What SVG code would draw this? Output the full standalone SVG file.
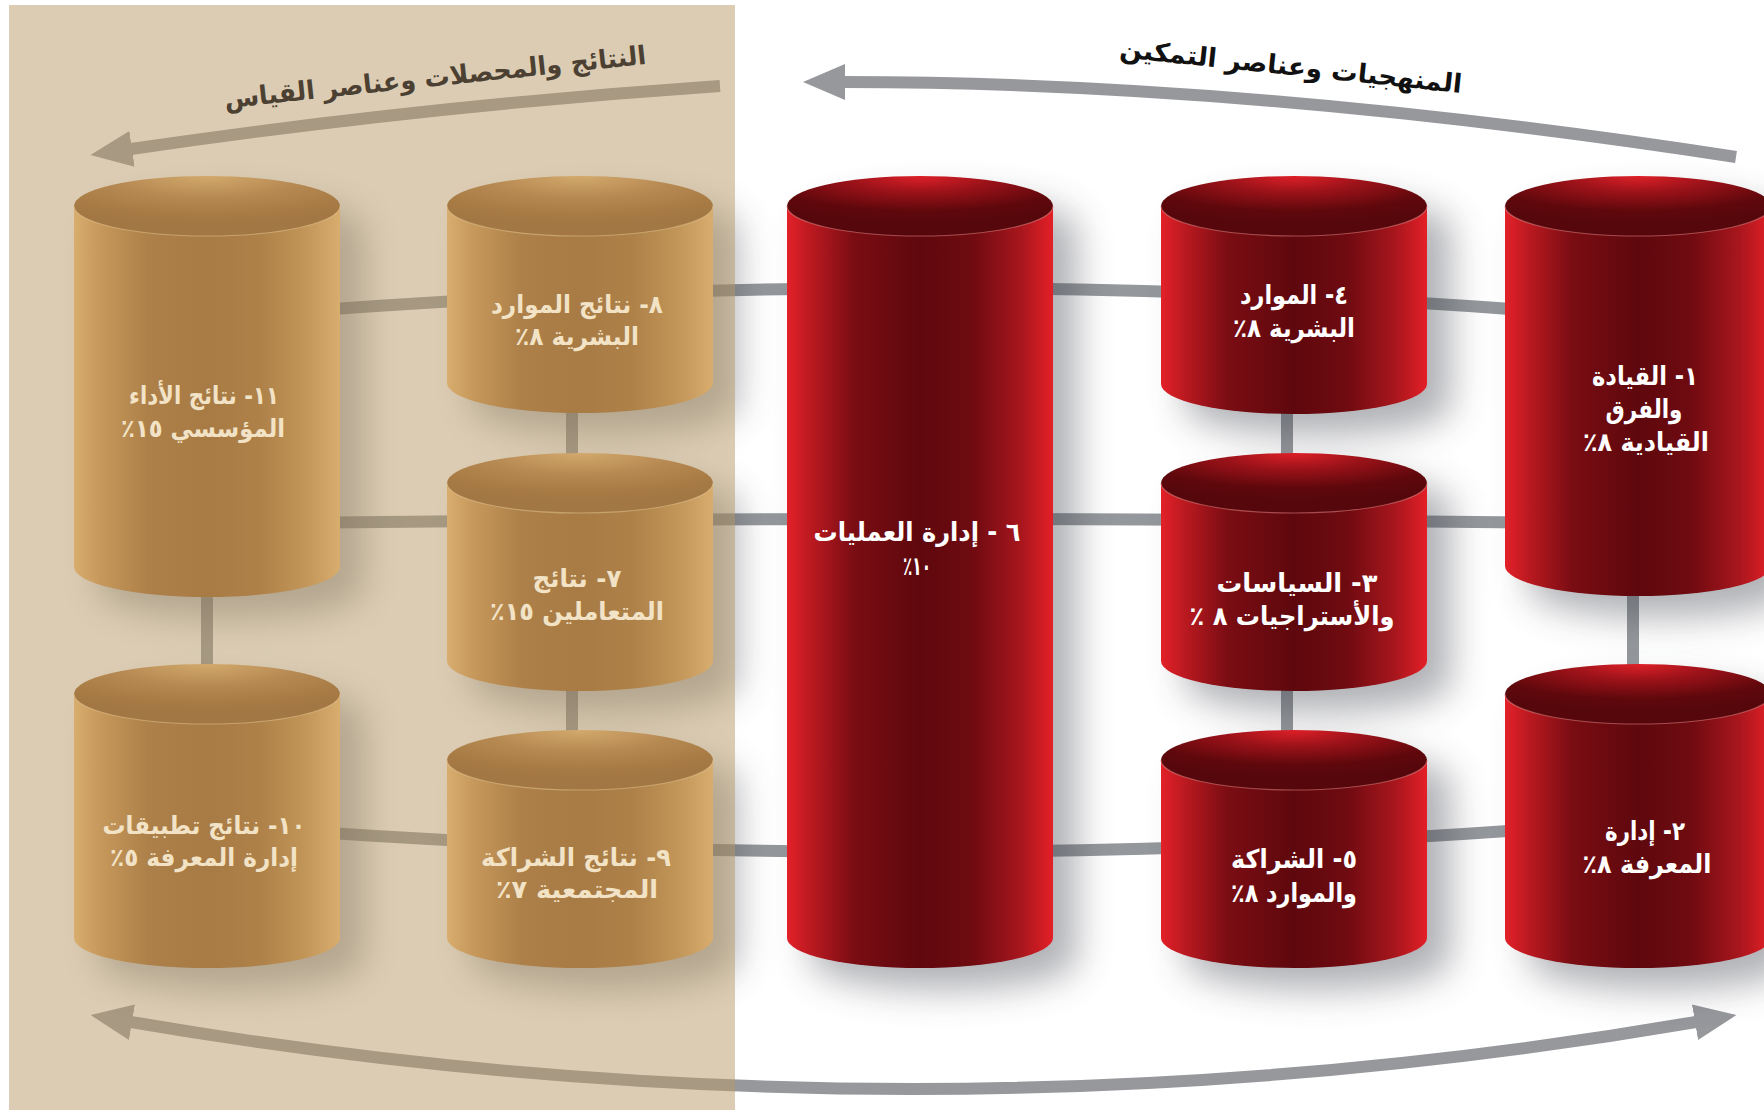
<svg xmlns="http://www.w3.org/2000/svg" width="1764" height="1110" viewBox="0 0 1764 1110">
  <defs>
    <style>
      .lbl { font-family: "DejaVu Sans", "Noto Sans Arabic", sans-serif; font-weight: bold; text-anchor: middle; direction: rtl; unicode-bidi: embed; }
      .gold-lbl { font-size: 25px; fill: #f2e3c7; }
      .red-lbl { font-size: 26px; fill: #ffffff; }
      .title { font-family: "DejaVu Sans", "Noto Sans Arabic", sans-serif; font-weight: bold; font-size: 26px; text-anchor: middle; direction: rtl; unicode-bidi: embed; }
      .gold .body { fill: url(#goldBody); }
      .gold .top { fill: url(#goldTop); }
      .gold .rim { fill: none; stroke: #e2c38e; stroke-opacity: 0.55; stroke-width: 1.2; }
      .red .body { fill: url(#redBody); }
      .red .top { fill: url(#redTop); }
      .red .rim { fill: none; stroke: #d77a7a; stroke-opacity: 0.6; stroke-width: 1.2; }
      .link { fill: none; stroke: #94979b; stroke-width: 12; }
      .flow { fill: none; stroke: #97989c; stroke-width: 12; }
    </style>
    <linearGradient id="goldBody" x1="0" y1="0" x2="1" y2="0">
      <stop offset="0" stop-color="#d8ad6e"/>
      <stop offset="0.1" stop-color="#c6985b"/>
      <stop offset="0.28" stop-color="#ad8049"/>
      <stop offset="0.5" stop-color="#a87b45"/>
      <stop offset="0.7" stop-color="#ae8149"/>
      <stop offset="0.87" stop-color="#c29558"/>
      <stop offset="1" stop-color="#d8ad6e"/>
    </linearGradient>
    <radialGradient id="goldTop" cx="0.5" cy="0" r="0.8">
      <stop offset="0" stop-color="#d3a96c"/>
      <stop offset="0.45" stop-color="#b68952"/>
      <stop offset="0.8" stop-color="#a87b45"/>
      <stop offset="1" stop-color="#a37743"/>
    </radialGradient>
    <linearGradient id="redBody" x1="0" y1="0" x2="1" y2="0">
      <stop offset="0" stop-color="#e32028"/>
      <stop offset="0.08" stop-color="#bf1a21"/>
      <stop offset="0.25" stop-color="#7a0d13"/>
      <stop offset="0.5" stop-color="#5e080d"/>
      <stop offset="0.7" stop-color="#6f0b11"/>
      <stop offset="0.88" stop-color="#a8161d"/>
      <stop offset="1" stop-color="#e41f27"/>
    </linearGradient>
    <radialGradient id="redTop" cx="0.5" cy="0" r="0.78">
      <stop offset="0" stop-color="#de2028"/>
      <stop offset="0.35" stop-color="#9b1219"/>
      <stop offset="0.75" stop-color="#5f080c"/>
      <stop offset="1" stop-color="#56070b"/>
    </radialGradient>
    <filter id="soft" filterUnits="userSpaceOnUse" x="0" y="0" width="1764" height="1110">
      <feGaussianBlur stdDeviation="18"/>
    </filter>
    <marker id="head" markerUnits="userSpaceOnUse" markerWidth="44" markerHeight="38" refX="1" refY="18" orient="auto-start-reverse">
      <path d="M0,0 L42,18 L0,36 Z" fill="#97989c"/>
    </marker>
  </defs>

  <!-- page -->
  <rect width="1764" height="1110" fill="#ffffff"/>

  <!-- connectors between the criteria -->
  <g id="connectors">
    <path class="link" d="M207,319 Q922,257 1637,319"/>
    <path class="link" d="M207,524 Q922,514 1637,524"/>
    <path class="link" d="M207,824 Q905,880 1603,824"/>
    <path class="link" d="M207,560 V700"/>
    <path class="link" d="M572,380 V770"/>
    <path class="link" d="M1287,380 V770"/>
    <path class="link" d="M1633,560 V700"/>
  </g>

  <!-- direction arrows -->
  <g id="flow-arrows">
    <path class="flow" d="M720,86 Q424,106 131,149" marker-end="url(#head)"/>
    <path class="flow" d="M1736,157 Q1250,82 844,82" marker-end="url(#head)"/>
    <path class="flow" d="M131,1022 Q913,1156 1696,1022" marker-start="url(#head)" marker-end="url(#head)"/>
  </g>

  <!-- cast shadows -->
  <g id="shadows" filter="url(#soft)" opacity="0.4" fill="#3a3e46">
    <rect x="98" y="198" width="266" height="421" rx="133" ry="30"/>
    <rect x="471" y="198" width="266" height="237" rx="133" ry="30"/>
    <rect x="471" y="475" width="266" height="238" rx="133" ry="30"/>
    <rect x="98" y="686" width="266" height="304" rx="133" ry="30"/>
    <rect x="471" y="752" width="266" height="238" rx="133" ry="30"/>
    <rect x="811" y="198" width="266" height="792" rx="133" ry="30"/>
    <rect x="1185" y="198" width="266" height="238" rx="133" ry="30"/>
    <rect x="1185" y="475" width="266" height="238" rx="133" ry="30"/>
    <rect x="1185" y="752" width="266" height="238" rx="133" ry="30"/>
    <rect x="1529" y="198" width="266" height="420" rx="133" ry="30"/>
    <rect x="1529" y="686" width="266" height="304" rx="133" ry="30"/>
  </g>

  <!-- results side panel -->
  <rect id="results-panel" x="9" y="5" width="726" height="1105" fill="#b89a68" opacity="0.5"/>

  <!-- arrow captions -->
  <text class="title" fill="#4b4032" x="436" y="86" textLength="424" lengthAdjust="spacingAndGlyphs" transform="rotate(-6 436 86)">النتائج والمحصلات وعناصر القياس</text>
  <text class="title" fill="#111111" x="1290" y="75" textLength="344" lengthAdjust="spacingAndGlyphs" transform="rotate(6 1290 75)">المنهجيات وعناصر التمكين</text>

  <!-- results criteria -->
  <g id="n11" class="gold">
    <path class="body" d="M74,206 V567 A133,30 0 0 0 340,567 V206 Z"/>
    <ellipse class="top" cx="207" cy="206" rx="133" ry="30"/>
    <path class="rim" d="M74,206 A133,30 0 0 0 340,206"/>
    <text class="lbl gold-lbl" x="204" y="404" textLength="150" lengthAdjust="spacingAndGlyphs">١١- نتائج الأداء</text>
    <text class="lbl gold-lbl" x="203" y="437" textLength="164" lengthAdjust="spacingAndGlyphs">المؤسسي ١٥٪</text>
  </g>
  <g id="n8" class="gold">
    <path class="body" d="M447,206 V383 A133,30 0 0 0 713,383 V206 Z"/>
    <ellipse class="top" cx="580" cy="206" rx="133" ry="30"/>
    <path class="rim" d="M447,206 A133,30 0 0 0 713,206"/>
    <text class="lbl gold-lbl" x="577" y="313" textLength="172" lengthAdjust="spacingAndGlyphs">٨- نتائج الموارد</text>
    <text class="lbl gold-lbl" x="577" y="345" textLength="124" lengthAdjust="spacingAndGlyphs">البشرية ٨٪</text>
  </g>
  <g id="n7" class="gold">
    <path class="body" d="M447,483 V661 A133,30 0 0 0 713,661 V483 Z"/>
    <ellipse class="top" cx="580" cy="483" rx="133" ry="30"/>
    <path class="rim" d="M447,483 A133,30 0 0 0 713,483"/>
    <text class="lbl gold-lbl" x="577" y="587" textLength="89" lengthAdjust="spacingAndGlyphs">٧- نتائج</text>
    <text class="lbl gold-lbl" x="577" y="620" textLength="174" lengthAdjust="spacingAndGlyphs">المتعاملين ١٥٪</text>
  </g>
  <g id="n10" class="gold">
    <path class="body" d="M74,694 V938 A133,30 0 0 0 340,938 V694 Z"/>
    <ellipse class="top" cx="207" cy="694" rx="133" ry="30"/>
    <path class="rim" d="M74,694 A133,30 0 0 0 340,694"/>
    <text class="lbl gold-lbl" x="204" y="834" textLength="203" lengthAdjust="spacingAndGlyphs">١٠- نتائج تطبيقات</text>
    <text class="lbl gold-lbl" x="204" y="866" textLength="188" lengthAdjust="spacingAndGlyphs">إدارة المعرفة ٥٪</text>
  </g>
  <g id="n9" class="gold">
    <path class="body" d="M447,760 V938 A133,30 0 0 0 713,938 V760 Z"/>
    <ellipse class="top" cx="580" cy="760" rx="133" ry="30"/>
    <path class="rim" d="M447,760 A133,30 0 0 0 713,760"/>
    <text class="lbl gold-lbl" x="576" y="866" textLength="190" lengthAdjust="spacingAndGlyphs">٩- نتائج الشراكة</text>
    <text class="lbl gold-lbl" x="577" y="898" textLength="162" lengthAdjust="spacingAndGlyphs">المجتمعية ٧٪</text>
  </g>

  <!-- enabler criteria -->
  <g id="n6" class="red">
    <path class="body" d="M787,206 V938 A133,30 0 0 0 1053,938 V206 Z"/>
    <ellipse class="top" cx="920" cy="206" rx="133" ry="30"/>
    <path class="rim" d="M787,206 A133,30 0 0 0 1053,206"/>
    <text class="lbl red-lbl" x="917" y="541" textLength="207" lengthAdjust="spacingAndGlyphs">٦ - إدارة العمليات</text>
    <text class="lbl red-lbl" x="917" y="575" textLength="28" lengthAdjust="spacingAndGlyphs">١٠٪</text>
  </g>
  <g id="n4" class="red">
    <path class="body" d="M1161,206 V384 A133,30 0 0 0 1427,384 V206 Z"/>
    <ellipse class="top" cx="1294" cy="206" rx="133" ry="30"/>
    <path class="rim" d="M1161,206 A133,30 0 0 0 1427,206"/>
    <text class="lbl red-lbl" x="1294" y="304" textLength="108" lengthAdjust="spacingAndGlyphs">٤- الموارد</text>
    <text class="lbl red-lbl" x="1294" y="337" textLength="122" lengthAdjust="spacingAndGlyphs">البشرية ٨٪</text>
  </g>
  <g id="n3" class="red">
    <path class="body" d="M1161,483 V661 A133,30 0 0 0 1427,661 V483 Z"/>
    <ellipse class="top" cx="1294" cy="483" rx="133" ry="30"/>
    <path class="rim" d="M1161,483 A133,30 0 0 0 1427,483"/>
    <text class="lbl red-lbl" x="1297" y="592" textLength="161" lengthAdjust="spacingAndGlyphs">٣- السياسات</text>
    <text class="lbl red-lbl" x="1292" y="625" textLength="205" lengthAdjust="spacingAndGlyphs">والأستراجيات ٨ ٪</text>
  </g>
  <g id="n5" class="red">
    <path class="body" d="M1161,760 V938 A133,30 0 0 0 1427,938 V760 Z"/>
    <ellipse class="top" cx="1294" cy="760" rx="133" ry="30"/>
    <path class="rim" d="M1161,760 A133,30 0 0 0 1427,760"/>
    <text class="lbl red-lbl" x="1294" y="868" textLength="126" lengthAdjust="spacingAndGlyphs">٥- الشراكة</text>
    <text class="lbl red-lbl" x="1294" y="902" textLength="126" lengthAdjust="spacingAndGlyphs">والموارد ٨٪</text>
  </g>
  <g id="n1" class="red">
    <path class="body" d="M1505,206 V566 A133,30 0 0 0 1771,566 V206 Z"/>
    <ellipse class="top" cx="1638" cy="206" rx="133" ry="30"/>
    <path class="rim" d="M1505,206 A133,30 0 0 0 1771,206"/>
    <text class="lbl red-lbl" x="1645" y="385" textLength="106" lengthAdjust="spacingAndGlyphs">١- القيادة</text>
    <text class="lbl red-lbl" x="1644" y="418" textLength="77" lengthAdjust="spacingAndGlyphs">والفرق</text>
    <text class="lbl red-lbl" x="1646" y="451" textLength="126" lengthAdjust="spacingAndGlyphs">القيادية ٨٪</text>
  </g>
  <g id="n2" class="red">
    <path class="body" d="M1505,694 V938 A133,30 0 0 0 1771,938 V694 Z"/>
    <ellipse class="top" cx="1638" cy="694" rx="133" ry="30"/>
    <path class="rim" d="M1505,694 A133,30 0 0 0 1771,694"/>
    <text class="lbl red-lbl" x="1645" y="840" textLength="80" lengthAdjust="spacingAndGlyphs">٢- إدارة</text>
    <text class="lbl red-lbl" x="1647" y="873" textLength="129" lengthAdjust="spacingAndGlyphs">المعرفة ٨٪</text>
  </g>
</svg>
